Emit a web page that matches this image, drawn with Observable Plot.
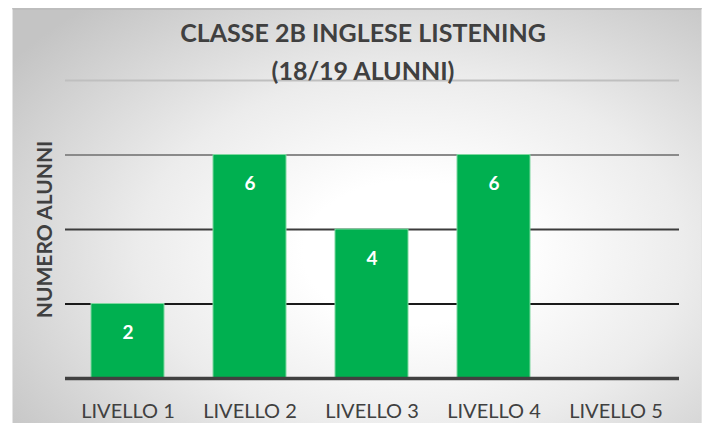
<!DOCTYPE html>
<html>
<head>
<meta charset="utf-8">
<script src="https://cdn.jsdelivr.net/npm/d3@7"></script>
<script src="https://cdn.jsdelivr.net/npm/@observablehq/plot@0.6"></script>
<style>
  html, body { margin: 0; padding: 0; background: #ffffff; }
  #wrap { position: relative; width: 710px; height: 423px; overflow: hidden; font-family: Lato, "Open Sans", sans-serif; }
  #bg { position: absolute; left: 12px; top: 8px; width: 690px; height: 420px;
        background: radial-gradient(ellipse 72% 78% at 58% 58%, #ffffff 22%, #ececec 55%, #c4c4c4 100%);
        border-top: 2px solid #bdbdbd; border-left: 1px solid #e4e4e4; border-right: 1px solid #e4e4e4; box-sizing: border-box; }
  #chart { position: absolute; left: 0; top: 0; }
  #title { position: absolute; left: 0; top: 13px; width: 726px; text-align: center; color: #404040;
           font-weight: 700; font-size: 25px; line-height: 38px; z-index: 2; }
</style>
</head>
<body>
<div id="wrap">
  <div id="bg"></div>
  <div id="chart"></div>
  <div id="title"></div>
</div>
<script>
const levels = ["LIVELLO 1", "LIVELLO 2", "LIVELLO 3", "LIVELLO 4", "LIVELLO 5"];
const counts = [2, 6, 4, 6, 0];
const titleLines = ["CLASSE 2B INGLESE LISTENING", "(18/19 ALUNNI)"];
const yLabel = "NUMERO ALUNNI";
const yDomain = [0, 8];

document.getElementById("title").innerHTML = titleLines.join("<br>");

const data = levels.map((l, i) => ({level: l, count: counts[i]}));
const shown = data.filter(d => d.count > 0);

const plot = Plot.plot({
  width: 710,
  height: 423,
  marginLeft: 65,
  marginRight: 31,
  marginTop: 80,
  marginBottom: 45,
  style: {background: "transparent", fontFamily: "Lato, 'Open Sans', sans-serif"},
  x: {domain: levels, paddingInner: 0.4, paddingOuter: 0.2, label: null},
  y: {domain: yDomain, label: null, axis: null},
  marks: [
    Plot.ruleY([8], {stroke: "#bfbfbf", strokeWidth: 2}),
    Plot.ruleY([6], {stroke: "#8a8a8a", strokeWidth: 2}),
    Plot.ruleY([4], {stroke: "#3c3c3c", strokeWidth: 2}),
    Plot.ruleY([2], {stroke: "#1a1a1a", strokeWidth: 2}),
    Plot.barY(shown, {x: "level", y: "count", fill: "#00b050", stroke: "#7fd8a0", strokeWidth: 1}),
    Plot.ruleY([0], {stroke: "#404040", strokeWidth: 3.5}),
    Plot.text(shown, {x: "level", y: "count", text: d => String(d.count), dy: 29,
      fill: "#ffffff", fontWeight: "bold", fontSize: 19, lineAnchor: "middle"}),
    Plot.axisX({tickSize: 0, tickPadding: 25, fontSize: 20, color: "#404040", label: null}),
    Plot.text([yLabel], {frameAnchor: "left", dx: -20, rotate: -90, text: d => d, textAnchor: "middle",
      fill: "#404040", fontWeight: "bold", fontSize: 21, lineAnchor: "middle"})
  ]
});
document.getElementById("chart").appendChild(plot);
</script>
</body>
</html>
